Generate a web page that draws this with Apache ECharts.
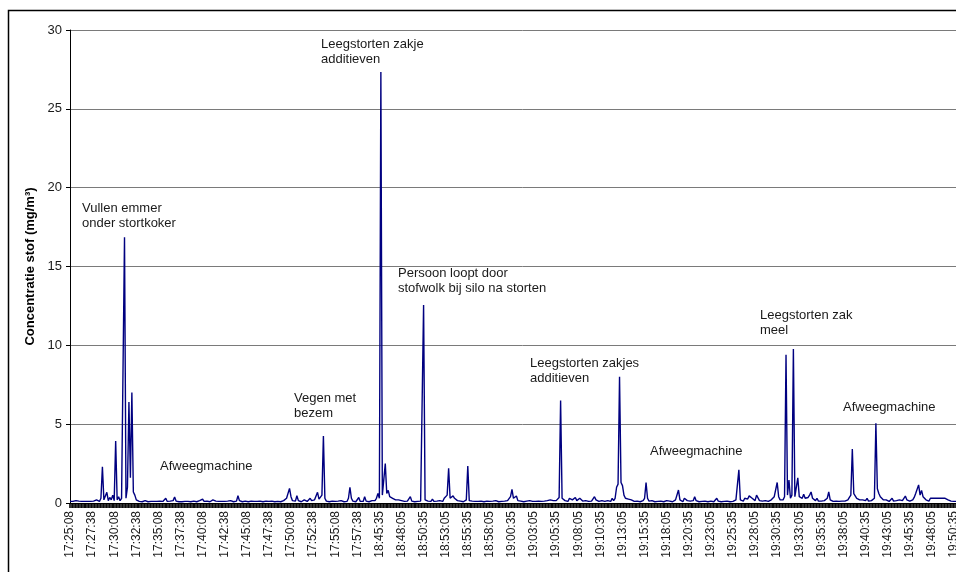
<!DOCTYPE html>
<html>
<head>
<meta charset="utf-8">
<script src="https://cdn.jsdelivr.net/npm/echarts@6/dist/echarts.min.js"></script>
<style>
html,body{margin:0;padding:0;background:#fff;overflow:hidden;width:956px;height:572px;}
#chart{width:980px;height:572px;}
</style>
</head>
<body>
<div id="chart"></div>
<script>
// Sampling: one reading every 10 s, two measuring sessions
const session1Start = '17:25:08';
const session2Start = '18:45:35';
const stepSeconds = 10;

// Dust concentration (mg/m3), session 1 (17:25:08 - 17:59:58)
const dustSession1 = [
  0.1,0.12,0.1,0.08,0.15,0.25,0.12,0.22,0.1,0.2,0.1,0.08,0.1,0.12,0.1,
  0.1,0.12,0.15,0.2,0.15,0.1,0.3,2.3,0.2,0.3,0.68,0.15,0.35,0.2,0.5,
  0.15,3.93,0.2,0.4,0.15,0.3,0.35,16.85,0.3,1.0,6.4,1.6,7.0,0.7,0.5,
  0.2,0.15,0.1,0.12,0.08,0.1,0.15,0.1,0.08,0.12,0.1,0.22,0.1,0.08,0.1,
  0.1,0.12,0.08,0.1,0.15,0.3,0.1,0.08,0.12,0.1,0.15,0.38,0.12,0.1,0.08,
  0.1,0.08,0.12,0.1,0.22,0.1,0.15,0.08,0.1,0.12,0.1,0.08,0.1,0.15,0.1,
  0.25,0.1,0.08,0.12,0.1,0.08,0.15,0.2,0.1,0.12,0.22,0.1,0.08,0.1,0.12,
  0.1,0.08,0.12,0.1,0.15,0.1,0.08,0.2,0.12,0.46,0.15,0.1,0.08,0.1,0.12,
  0.1,0.08,0.1,0.12,0.08,0.1,0.15,0.1,0.08,0.12,0.1,0.08,0.1,0.12,0.1,
  0.1,0.08,0.12,0.1,0.08,0.15,0.1,0.12,0.08,0.1,0.15,0.2,0.3,0.35,0.93,
  0.4,0.15,0.1,0.12,0.46,0.15,0.1,0.08,0.12,0.2,0.15,0.1,0.12,0.3,0.15,
  0.12,0.2,0.3,0.68,0.25,0.3,0.5,4.25,0.3,0.12,0.1,0.08,0.1,0.12,0.1,
  0.1,0.08,0.12,0.1,0.15,0.1,0.08,0.12,0.1,0.3,1.0,0.3,0.12,0.1,0.08,
  0.15,0.35,0.1,0.12,0.1,0.4,0.12,0.1,0.08,0.12,0.15,0.12,0.15,0.3,0.6
];

// Dust concentration (mg/m3), session 2 (from 18:45:35)
const dustSession2 = [
  0.3,27.33,0.5,0.4,2.5,0.6,0.8,0.4,0.5,0.3,0.25,0.2,0.15,0.2,0.12,
  0.15,0.12,0.1,0.15,0.12,0.1,0.4,0.12,0.1,0.08,0.12,0.1,0.15,0.12,0.2,
  12.55,0.2,0.1,0.12,0.08,0.1,0.25,0.1,0.15,0.12,0.1,0.15,0.12,0.1,0.3,
  0.4,0.5,2.2,0.3,0.2,0.45,0.3,0.4,0.15,0.1,0.12,0.1,0.08,0.1,0.2,
  2.35,0.15,0.1,0.12,0.08,0.1,0.12,0.1,0.08,0.12,0.1,0.08,0.1,0.12,0.1,
  0.1,0.08,0.12,0.1,0.15,0.1,0.08,0.12,0.1,0.08,0.12,0.1,0.15,0.2,0.4,
  0.87,0.3,0.2,0.44,0.15,0.1,0.12,0.1,0.08,0.15,0.12,0.1,0.15,0.12,0.1,
  0.12,0.1,0.15,0.12,0.2,0.1,0.08,0.12,0.1,0.15,0.12,0.2,0.1,0.15,0.2,
  0.15,0.2,0.35,6.5,0.3,0.35,0.15,0.12,0.1,0.3,0.3,0.2,0.25,0.35,0.15,
  0.12,0.3,0.35,0.12,0.1,0.15,0.12,0.1,0.08,0.12,0.1,0.4,0.2,0.12,0.1,
  0.1,0.15,0.12,0.1,0.2,0.15,0.12,0.1,0.3,0.15,0.3,1.0,1.2,8.0,1.3,
  1.1,0.5,0.3,0.2,0.25,0.15,0.2,0.12,0.1,0.15,0.12,0.1,0.08,0.1,0.15,
  0.3,1.29,0.3,0.12,0.1,0.15,0.1,0.08,0.12,0.1,0.15,0.12,0.1,0.08,0.12,
  0.15,0.1,0.12,0.1,0.08,0.15,0.2,0.3,0.82,0.2,0.1,0.08,0.3,0.3,0.15,
  0.2,0.12,0.1,0.15,0.4,0.15,0.1,0.08,0.12,0.1,0.08,0.12,0.1,0.08,0.2,
  0.12,0.1,0.08,0.12,0.3,0.12,0.1,0.08,0.12,0.1,0.15,0.12,0.1,0.08,0.12,
  0.1,0.15,0.2,0.3,2.1,0.2,0.15,0.12,0.3,0.2,0.25,0.45,0.5,0.3,0.2,
  0.15,0.5,0.55,0.15,0.1,0.12,0.1,0.15,0.12,0.1,0.15,0.2,0.3,0.4,0.3,
  1.3,0.4,0.2,0.3,0.2,0.4,9.4,0.5,1.46,0.3,0.5,9.77,0.4,0.3,1.6,
  0.4,0.5,0.3,0.55,0.3,0.25,0.35,0.5,0.7,0.3,0.2,0.15,0.3,0.12,0.1,
  0.12,0.1,0.15,0.12,0.3,0.7,0.2,0.12,0.1,0.08,0.12,0.15,0.1,0.08,0.12,
  0.1,0.12,0.15,0.2,0.35,0.5,3.42,0.6,0.5,0.3,0.35,0.2,0.15,0.2,0.3,
  0.15,0.3,0.12,0.1,0.15,0.12,0.3,5.05,0.9,0.6,0.4,0.3,0.2,0.15,0.2,
  0.12,0.1,0.15,0.3,0.12,0.1,0.15,0.12,0.2,0.25,0.15,0.3,0.44,0.2,0.15,
  0.12,0.1,0.2,0.35,0.6,0.5,1.15,0.5,0.8,0.4,0.3,0.2,0.15,0.12,0.3,
  0.35,0.3,0.35,0.3,0.35,0.3,0.35,0.3,0.25,0.3,0.35,0.2,0.1,0.12,0.1,
  0.1,0.12,0.1,0.15,0.12,0.1,0.08,0.12,0.1,0.15,0.12,0.1,0.08,0.1,0.12
];

// Shown tick labels (every 15th reading)
const tickLabels = ['17:25:08','17:27:38','17:30:08','17:32:38','17:35:08','17:37:38','17:40:08','17:42:38','17:45:08','17:47:38','17:50:08','17:52:38','17:55:08','17:57:38','18:45:35','18:48:05','18:50:35','18:53:05','18:55:35','18:58:05','19:00:35','19:03:05','19:05:35','19:08:05','19:10:35','19:13:05','19:15:35','19:18:05','19:20:35','19:23:05','19:25:35','19:28:05','19:30:35','19:33:05','19:35:35','19:38:05','19:40:35','19:43:05','19:45:35','19:48:05','19:50:35'];

const yTicks = [0, 5, 10, 15, 20, 25, 30];

// Annotation texts (Dutch)
const notes = [
  {lines:['Vullen emmer','onder stortkoker'], x:82, y:209},
  {lines:['Afweegmachine'], x:160, y:467},
  {lines:['Vegen met','bezem'], x:294, y:399},
  {lines:['Leegstorten zakje','additieven'], x:321, y:45},
  {lines:['Persoon loopt door','stofwolk bij silo na storten'], x:398, y:274},
  {lines:['Leegstorten zakjes','additieven'], x:530, y:364},
  {lines:['Afweegmachine'], x:650, y:452},
  {lines:['Leegstorten zak','meel'], x:760, y:316},
  {lines:['Afweegmachine'], x:843, y:408}
];

function toSec(s){const p=s.split(':').map(Number);return p[0]*3600+p[1]*60+p[2];}
function fmt(t){const h=Math.floor(t/3600),m=Math.floor((t%3600)/60),s=t%60;const z=n=>String(n).padStart(2,'0');return z(h)+':'+z(m)+':'+z(s);}
const categories = dustSession1.map((_,i)=>fmt(toSec(session1Start)+i*stepSeconds))
  .concat(dustSession2.map((_,i)=>fmt(toSec(session2Start)+i*stepSeconds)));
const values = dustSession1.concat(dustSession2);

const FONT = '"Liberation Sans", Arial, sans-serif';
const graphics = [{
  type:'rect', silent:true, z:-1,
  shape:{x:8.5, y:10.5, width:1100, height:700},
  style:{fill:'#fff', stroke:'#000', lineWidth:1.5}
}];
notes.forEach(n=>{
  n.lines.forEach((t,k)=>{
    graphics.push({type:'text', silent:true, z:10, left:n.x, top:n.y + k*15.5 - 7.5,
      style:{text:t, fill:'#1a1a1a', font:'13px ' + FONT}});
  });
});

const chart = echarts.init(document.getElementById('chart'), null, {renderer:'canvas'});
chart.setOption({
  animation:false,
  backgroundColor:'#fff',
  grid:{left:70, top:30, height:473, right:5.4},
  graphic:graphics,
  xAxis:{
    type:'category', data:categories, boundaryGap:false,
    axisLine:{lineStyle:{color:'#000', width:1}},
    axisTick:{interval:0, length:5, lineStyle:{color:'#000', width:1.6}},
    axisLabel:{interval:14, rotate:90, fontSize:12, color:'#1a1a1a', fontFamily:FONT, margin:8,
      formatter:v=>tickLabels.includes(v)?v:''},
    splitLine:{show:false}
  },
  yAxis:{
    type:'value', min:yTicks[0], max:yTicks[yTicks.length-1], interval:5,
    name:'Concentratie stof (mg/m³)', nameLocation:'middle', nameGap:33,
    nameTextStyle:{fontSize:13, fontWeight:'bold', color:'#000', fontFamily:FONT},
    axisLine:{show:true, lineStyle:{color:'#000', width:1}},
    axisTick:{show:true, length:4, lineStyle:{color:'#000'}},
    axisLabel:{fontSize:13, color:'#1a1a1a', fontFamily:FONT, margin:8},
    splitLine:{lineStyle:{color:'#7a7a7a', width:1}}
  },
  series:[{
    type:'line', data:values, showSymbol:false, symbol:'none',
    lineStyle:{color:'#000080', width:1.4}, itemStyle:{color:'#000080'},
    z:5
  }]
});
</script>
</body>
</html>
